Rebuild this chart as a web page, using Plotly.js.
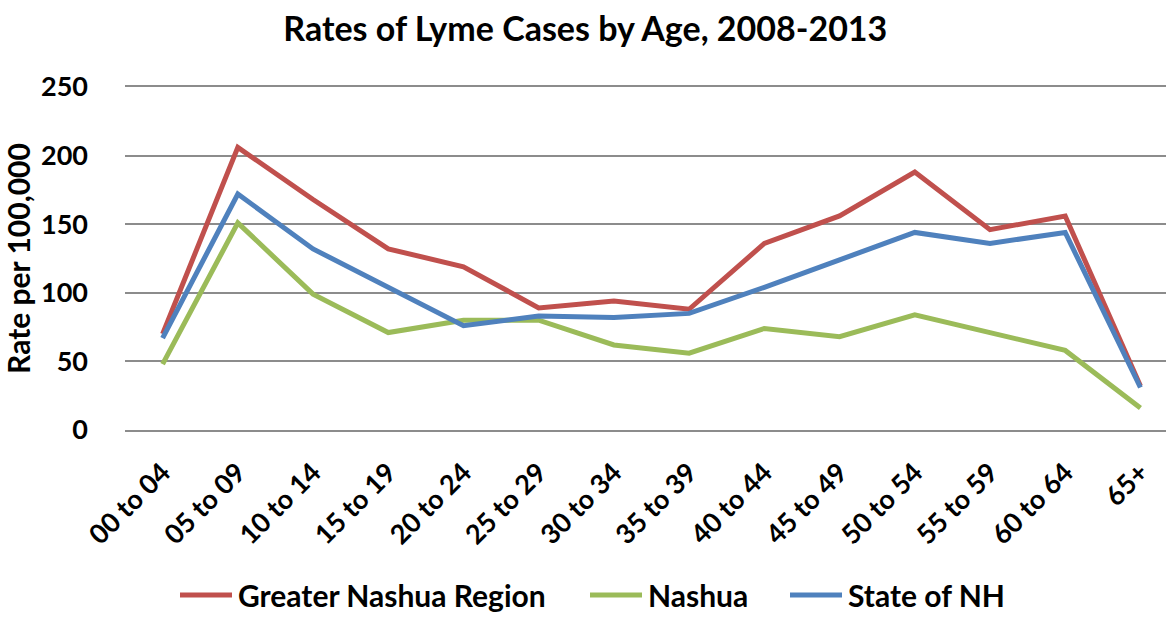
<!DOCTYPE html>
<html>
<head>
<meta charset="utf-8">
<script src="https://cdn.plot.ly/plotly-3.0.1.min.js"></script>
<style>html,body{margin:0;padding:0;background:#fff;}#chart{width:1166px;height:621px;}</style>
</head>
<body>
<div id="chart"></div>
<script>
const categories = ["00 to 04","05 to 09","10 to 14","15 to 19","20 to 24","25 to 29","30 to 34","35 to 39","40 to 44","45 to 49","50 to 54","55 to 59","60 to 64","65+"];
const greaterNashua = [70, 206, 168, 132, 119, 89, 94, 88, 136, 156, 188, 146, 156, 32];
const nashua = [48, 151, 99, 71, 80, 80, 62, 56, 74, 68, 84, 71, 58, 16];
const stateNH = [67, 172, 132, 104, 76, 83, 82, 85, 104, 124, 144, 136, 144, 31];
const seriesNames = ["Greater Nashua Region", "Nashua", "State of NH"];
const yTicks = [0, 50, 100, 150, 200, 250];

const F = "Lato, 'Open Sans', sans-serif";
const legendFont = {family: F, size: 30, color: '#000', weight: 'bold'};
const mk = (name, y, color, lg) => ({
  type: 'scatter', mode: 'lines', name: name, x: categories, y: y, legend: lg,
  line: {color: color, width: 5}, hoverinfo: 'skip'
});
const data = [
  mk(seriesNames[0], greaterNashua, '#C0504D', 'legend'),
  mk(seriesNames[1], nashua, '#9BBB59', 'legend2'),
  mk(seriesNames[2], stateNH, '#4F81BD', 'legend3')
];
const L = 125, W = 1041;
const lx = px => (px - L) / W;
const ly = -0.481;
const mkLegend = px => ({orientation: 'h', x: lx(px), xanchor: 'left', y: ly, yanchor: 'middle',
  font: legendFont, bgcolor: 'rgba(0,0,0,0)', borderwidth: 0});
const layout = {
  width: 1166, height: 621,
  paper_bgcolor: '#fff', plot_bgcolor: '#fff',
  margin: {l: L, r: 0, t: 87, b: 184, pad: 0},
  title: {text: 'Rates of Lyme Cases by Age, 2008-2013', font: {family: F, size: 34, color: '#000', weight: 'bold'}, x: 0.502, xanchor: 'center', y: 0.953, yanchor: 'middle'},
  xaxis: {
    type: 'category', range: [-0.5, 13.34], tickangle: -45,
    tickfont: {family: F, size: 27, color: '#000', weight: 'bold'},
    showgrid: false, zeroline: false, showline: true, mirror: true, linecolor: '#8c8c8c', linewidth: 2,
    ticks: '', automargin: false
  },
  yaxis: {
    range: [0, 250], tickvals: yTicks, ticktext: yTicks.map(String),
    tickfont: {family: F, size: 27, color: '#000', weight: 'bold'},
    showgrid: true, gridcolor: '#8c8c8c', gridwidth: 2, zeroline: false, showline: false,
    ticks: '', ticklabelstandoff: 36, automargin: false,
    title: {text: 'Rate per 100,000', font: {family: F, size: 30, color: '#000', weight: 'bold'}, standoff: 6}
  },
  showlegend: true,
  legend: mkLegend(198),
  legend2: mkLegend(608),
  legend3: mkLegend(808),
  hovermode: false
};
const gdEl = document.getElementById('chart');
function fixUp() {
  gdEl.querySelectorAll('.infolayer [clip-path]').forEach(el => el.removeAttribute('clip-path'));
  gdEl.querySelectorAll('.legendlines path').forEach(p => p.setAttribute('d', 'M-18,0h52'));
  gdEl.querySelectorAll('.xaxislayer-above').forEach(g => g.setAttribute('transform', 'translate(0,14)'));
}
Plotly.newPlot(gdEl, data, layout, {displayModeBar: false, staticPlot: true}).then(() => {
  fixUp();
  gdEl.on && gdEl.on('plotly_afterplot', fixUp);
  setTimeout(fixUp, 50);
  setTimeout(fixUp, 300);
});
</script>
</body>
</html>
